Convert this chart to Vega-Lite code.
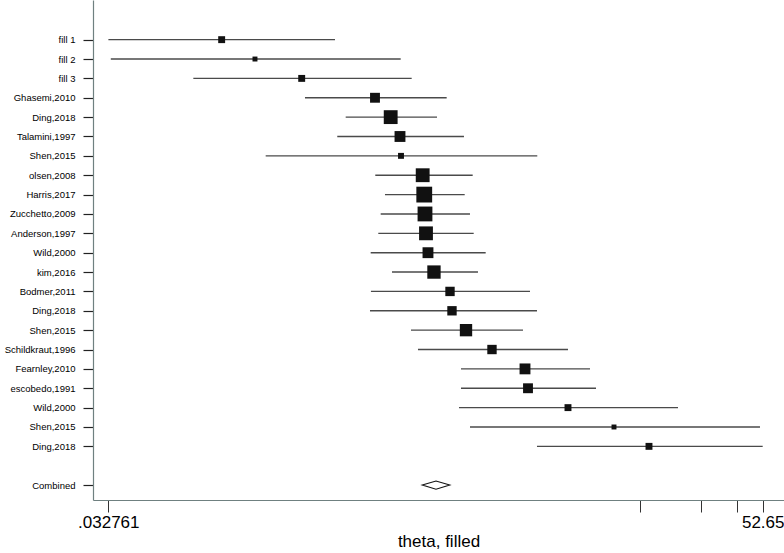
{
  "$schema": "https://vega.github.io/schema/vega-lite/v6.json",
  "autosize": {"type": "none"},
  "padding": {"left": 93, "top": 0, "right": 0, "bottom": 53},
  "width": 691,
  "height": 500,
  "background": "white",
  "config": {"view": {"stroke": null}, "font": "Liberation Sans"},
  "data": {"values": [
    {"row": 1, "study": "fill 1", "es": 0.1177, "lo": 0.0328, "hi": 0.4227, "w": 4.9},
    {"row": 2, "study": "fill 2", "es": 0.1714, "lo": 0.0337, "hi": 0.887, "w": 2.5},
    {"row": 3, "study": "fill 3", "es": 0.2903, "lo": 0.0855, "hi": 1.004, "w": 4.9},
    {"row": 4, "study": "Ghasemi,2010", "es": 0.6637, "lo": 0.3013, "hi": 1.49, "w": 10},
    {"row": 5, "study": "Ding,2018", "es": 0.7923, "lo": 0.4769, "hi": 1.336, "w": 19.6},
    {"row": 6, "study": "Talamini,1997", "es": 0.88, "lo": 0.4337, "hi": 1.811, "w": 12.1},
    {"row": 7, "study": "Shen,2015", "es": 0.89, "lo": 0.1934, "hi": 4.141, "w": 3.6},
    {"row": 8, "study": "olsen,2008", "es": 1.1367, "lo": 0.6659, "hi": 1.998, "w": 19.6},
    {"row": 9, "study": "Harris,2017", "es": 1.157, "lo": 0.7429, "hi": 1.826, "w": 25.6},
    {"row": 10, "study": "Zucchetto,2009", "es": 1.1666, "lo": 0.7077, "hi": 1.938, "w": 22.5},
    {"row": 11, "study": "Anderson,1997", "es": 1.18, "lo": 0.6889, "hi": 2.021, "w": 19.6},
    {"row": 12, "study": "Wild,2000", "es": 1.2067, "lo": 0.6322, "hi": 2.3136, "w": 12.1},
    {"row": 13, "study": "kim,2016", "es": 1.291, "lo": 0.804, "hi": 2.121, "w": 18.2},
    {"row": 14, "study": "Bodmer,2011", "es": 1.547, "lo": 0.634, "hi": 3.814, "w": 9},
    {"row": 15, "study": "Ding,2018", "es": 1.582, "lo": 0.6273, "hi": 4.127, "w": 9},
    {"row": 16, "study": "Shen,2015", "es": 1.853, "lo": 0.996, "hi": 3.524, "w": 15.6},
    {"row": 17, "study": "Schildkraut,1996", "es": 2.484, "lo": 1.078, "hi": 5.855, "w": 9},
    {"row": 18, "study": "Fearnley,2010", "es": 3.605, "lo": 1.751, "hi": 7.505, "w": 12.1},
    {"row": 19, "study": "escobedo,1991", "es": 3.729, "lo": 1.751, "hi": 8.031, "w": 10},
    {"row": 20, "study": "Wild,2000", "es": 5.855, "lo": 1.712, "hi": 20.25, "w": 4.9},
    {"row": 21, "study": "Shen,2015", "es": 9.838, "lo": 1.938, "hi": 51.07, "w": 2.5},
    {"row": 22, "study": "Ding,2018", "es": 14.6, "lo": 4.127, "hi": 52.65, "w": 4.9},
    {"row": 24, "study": "Combined", "es": 1.321, "lo": 1.128, "hi": 1.538, "w": 0}
  ]},
  "encoding": {
    "y": {
      "field": "row", "type": "quantitative",
      "scale": {"domain": [-1.048, 24.77], "reverse": true, "nice": false, "zero": false},
      "axis": {
        "title": null, "grid": false,
        "values": [1,2,3,4,5,6,7,8,9,10,11,12,13,14,15,16,17,18,19,20,21,22,24],
        "labelExpr": "['', 'fill 1', 'fill 2', 'fill 3', 'Ghasemi,2010', 'Ding,2018', 'Talamini,1997', 'Shen,2015', 'olsen,2008', 'Harris,2017', 'Zucchetto,2009', 'Anderson,1997', 'Wild,2000', 'kim,2016', 'Bodmer,2011', 'Ding,2018', 'Shen,2015', 'Schildkraut,1996', 'Fearnley,2010', 'escobedo,1991', 'Wild,2000', 'Shen,2015', 'Ding,2018', '', 'Combined'][datum.value]",
        "labelFontSize": 9.5, "labelColor": "black", "labelPadding": 8,
        "tickSize": 10, "tickColor": "#222", "tickWidth": 1.2,
        "domainColor": "#6f8080", "domainWidth": 1.2, "labelBound": false
      }
    }
  },
  "layer": [
    {
      "transform": [{"filter": "datum.row < 23"}],
      "mark": {"type": "rule", "color": "#4a4a4a", "strokeWidth": 1.4},
      "encoding": {
        "x": {
          "field": "lo", "type": "quantitative",
          "scale": {"type": "log", "domain": [0.02757, 66.96], "nice": false},
          "axis": {
            "title": "theta, filled", "titleFontSize": 17, "titleFontWeight": "normal",
            "titleColor": "black", "titlePadding": 3,
            "grid": false,
            "values": [0.032761, 13.1625, 26.325, 39.4875, 52.65],
            "labelExpr": "datum.value < 0.1 ? '.032761' : (datum.value > 50 ? '52.65' : '')",
            "labelFontSize": 17, "labelColor": "black", "labelPadding": 2,
            "tickSize": 12, "tickColor": "#333", "tickWidth": 1,
            "domainColor": "#6f8080", "domainWidth": 1.2,
            "labelFlush": false, "labelOverlap": false
          }
        },
        "x2": {"field": "hi"}
      }
    },
    {
      "transform": [{"filter": "datum.row < 23"}],
      "mark": {"type": "point", "shape": "square", "filled": true, "color": "#111", "opacity": 1},
      "encoding": {
        "x": {"field": "es", "type": "quantitative"},
        "size": {"field": "w", "type": "quantitative", "scale": {"type": "linear", "domain": [0, 25.6], "range": [0, 250]}, "legend": null}
      }
    },
    {
      "transform": [{"filter": "datum.row > 23"}],
      "mark": {"type": "point", "shape": "M-1,0L0,-0.3L1,0L0,0.3Z", "size": 756, "filled": true, "fill": "white", "stroke": "#111", "strokeWidth": 1.1, "opacity": 1},
      "encoding": {
        "x": {"field": "es", "type": "quantitative"}
      }
    }
  ]
}
